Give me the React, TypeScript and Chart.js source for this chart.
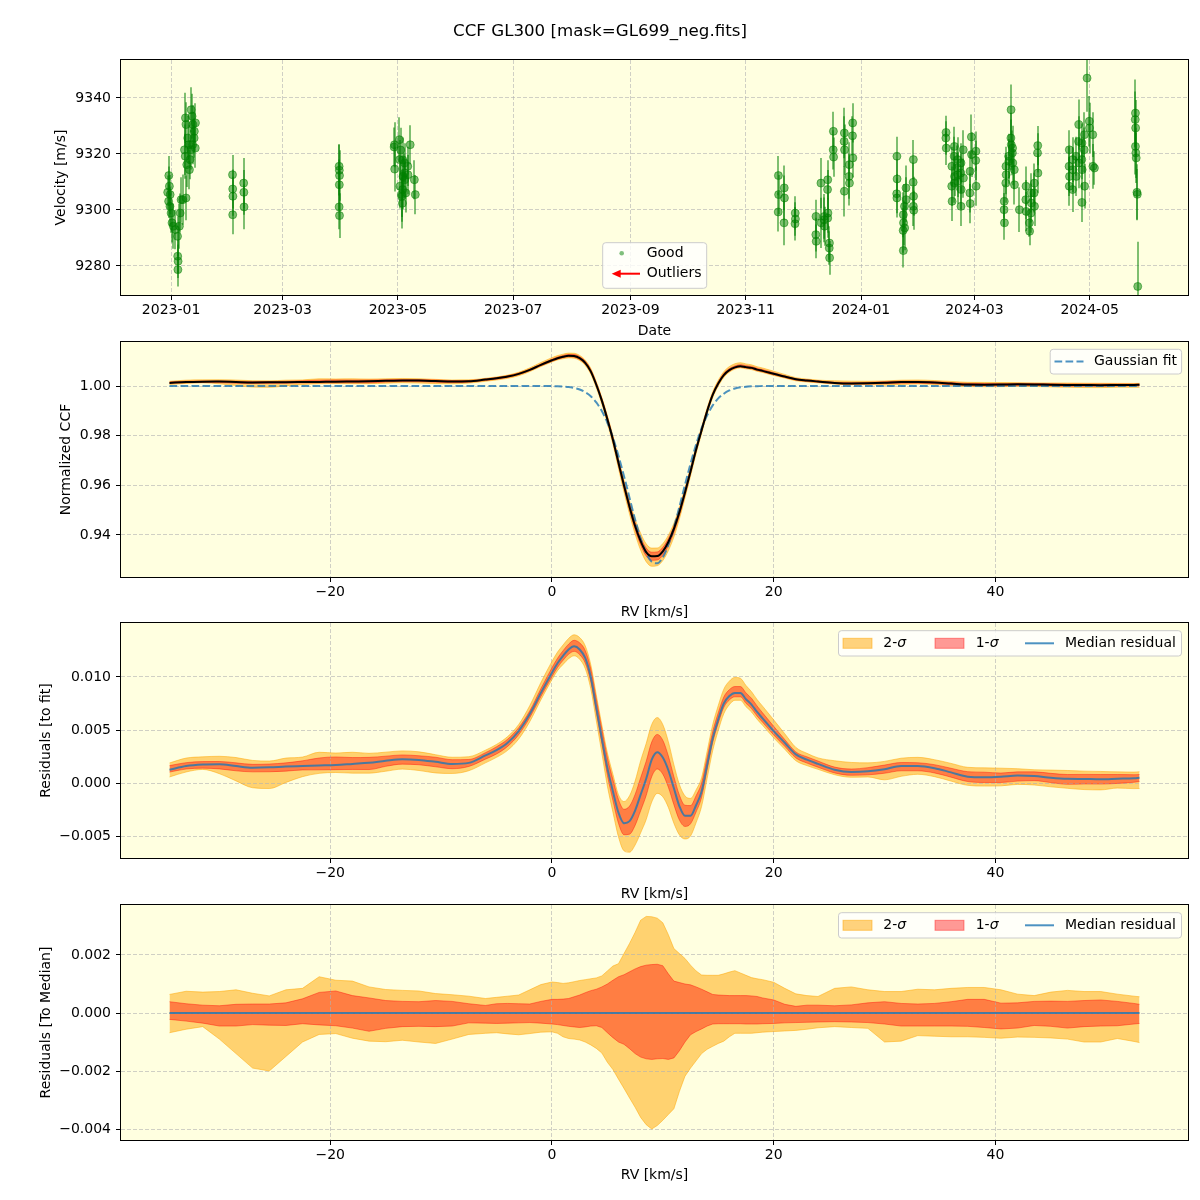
import React, { useEffect, useRef } from 'react';
import { Chart, registerables } from 'chart.js';

const FONT = "'DejaVu Sans', 'Liberation Sans', sans-serif";
const BG = '#ffffe0';
const GRID = 'rgba(176,176,176,0.6)';
const ORANGE = 'rgba(255,165,0,0.5)';
const RED = 'rgba(255,0,0,0.4)';
const BLUE = 'rgba(31,119,180,0.8)';
const GREEN = 'rgba(0,128,0,0.5)';

// ================= Panel 1: velocity time series =================
// x values are days since 2023-01-01
const DATE_TICKS = [0, 59, 120, 181, 243, 304, 365, 425, 486];
const DATE_LABELS = ['2023-01', '2023-03', '2023-05', '2023-07', '2023-09', '2023-11', '2024-01', '2024-03', '2024-05'];
const VEL_TICKS = [9280, 9300, 9320, 9340];

const T_DAYS = [
  -1.2, -0.9, -1.8, -0.5, -1.3, -0.6, 0.0, 0.5, 1.2, 2.3, 3.4, 3.5, 3.7, 3.6, 4.8, 4.4, 5.3,
  6.2, 7.1, 7.6, 7.9, 7.5, 8.3, 7.9, 8.8, 9.3, 9.7, 10.0, 10.6, 10.5, 11.1, 11.5, 11.4, 12.3, 12.2, 12.9, 12.8,
  32.5, 32.6, 32.7, 32.6, 38.4, 38.5, 38.6,
  88.9, 89.0, 89.1, 89.0, 88.9, 89.1,
  118.2, 118.0, 118.3, 120.8, 121.5, 120.9, 122.6, 121.1, 121.9, 122.0, 122.4, 122.7, 122.5, 123.5, 123.4, 123.6, 124.2, 125.2, 125.3, 126.5, 128.7, 129.2,
  321.3, 321.4, 321.2, 324.4, 324.5, 324.3, 330.2, 330.3, 330.1,
  341.2, 341.1, 341.3, 343.8, 343.9, 345.6, 345.5, 345.7, 347.4, 347.3, 347.5, 347.4, 348.3, 348.2, 348.4, 350.4, 350.3, 350.5, 356.2, 356.1, 356.3, 356.2, 358.8, 358.7, 358.9, 360.6, 360.5, 360.7,
  384.0, 384.1, 383.9, 384.0, 387.4, 387.5, 387.3, 387.4, 388.0, 388.1, 388.8, 388.9, 392.7, 392.6, 392.8, 392.7, 392.9,
  410.0, 409.9, 410.1, 413.1, 413.0, 413.2, 414.4, 414.3, 414.5, 414.4, 416.1, 416.0, 416.2, 416.1, 417.9, 417.8, 418.0, 417.9, 419.1, 419.2, 422.7, 422.6, 422.8, 423.4, 423.5, 425.8, 425.7, 425.9,
  440.8, 440.7, 440.9, 441.7, 441.8, 441.6, 443.1, 443.2, 444.4, 444.3, 444.5, 445.2, 445.1, 445.3, 446.1, 446.2, 448.8, 452.3, 452.2, 452.4, 454.1, 454.2, 455.0, 455.1, 454.9, 456.7, 456.6, 456.8, 458.5, 458.4, 458.6,
  475.2, 475.1, 475.3, 475.2, 477.0, 477.1, 476.9, 478.8, 478.9, 480.2, 480.1, 480.3, 481.9, 481.8, 482.0, 481.9, 483.2, 483.1, 483.3, 484.6, 485.8, 485.9, 487.6, 487.7, 488.5,
  510.2, 510.1, 510.3, 510.2, 510.4, 510.6, 511.0, 511.2, 511.4,
];
const VEL = [
  9312.3, 9308.5, 9306.3, 9305.5, 9303.1, 9301.3, 9298.9, 9295.4, 9294.2, 9293.0, 9290.6, 9283.5, 9281.7, 9278.7, 9298.9, 9294.2, 9303.7,
  9303.7, 9321.5, 9332.9, 9330.5, 9319.2, 9316.2, 9304.3, 9325.7, 9323.3, 9314.4, 9318.0, 9335.8, 9321.5, 9333.5, 9330.5, 9323.3, 9328.1, 9325.7, 9331.1, 9322.1,
  9312.6, 9307.5, 9304.9, 9298.3, 9309.6, 9306.3, 9301.1,
  9315.6, 9314.2, 9312.3, 9309.0, 9301.1, 9298.0,
  9323.3, 9322.5, 9314.6, 9325.1, 9321.4, 9318.0, 9317.9, 9308.5, 9305.5, 9304.8, 9302.4, 9312.0, 9307.3, 9316.8, 9313.2, 9310.8, 9306.1, 9315.6, 9312.6, 9323.3, 9310.8, 9305.5,
  9312.3, 9305.5, 9299.3, 9307.9, 9304.3, 9295.4, 9298.9, 9296.8, 9295.1,
  9297.7, 9291.2, 9288.8, 9309.6, 9295.4, 9297.7, 9296.5, 9294.2, 9310.8, 9307.3, 9298.9, 9297.1, 9288.2, 9286.4, 9282.9, 9328.1, 9321.5, 9318.9, 9327.5, 9324.5, 9321.5, 9306.7, 9316.2, 9312.0, 9309.6, 9331.1, 9326.5, 9318.6,
  9319.2, 9311.1, 9305.8, 9304.3, 9298.3, 9295.4, 9292.7, 9285.5, 9301.3, 9293.6, 9307.9, 9303.7, 9318.0, 9309.9, 9304.9, 9301.3, 9299.9,
  9327.7, 9325.7, 9322.1, 9315.6, 9308.5, 9303.1, 9322.7, 9319.2, 9312.0, 9309.6, 9318.0, 9315.0, 9312.6, 9310.2, 9316.8, 9313.2, 9307.3, 9301.3, 9321.5, 9311.4, 9313.8, 9306.1, 9302.3, 9326.1, 9319.8, 9321.0, 9317.7, 9308.5,
  9303.1, 9300.1, 9295.4, 9315.6, 9312.6, 9309.6, 9319.2, 9317.4, 9335.8, 9325.7, 9323.3, 9322.1, 9320.4, 9316.8, 9314.4, 9309.0, 9300.1, 9308.5, 9303.7, 9299.5, 9295.4, 9292.4, 9306.1, 9302.5, 9298.9, 9309.6, 9306.1, 9301.3, 9323.0, 9320.4, 9313.2,
  9321.5, 9315.6, 9312.0, 9308.5, 9318.0, 9314.4, 9307.3, 9319.2, 9312.0, 9330.5, 9324.5, 9316.8, 9323.9, 9318.0, 9314.4, 9302.7, 9326.9, 9321.5, 9308.5, 9347.1, 9331.7, 9329.3, 9326.9, 9315.6, 9315.0,
  9334.6, 9332.3, 9329.3, 9322.7, 9320.4, 9318.6, 9306.3, 9305.6, 9272.7,
];
const VEL_ERR = [
  7, 7, 6, 7, 6, 7, 7, 7, 8, 7, 7, 6, 6, 6, 7, 8, 8,
  9, 9, 9, 8, 8, 8, 8, 8, 7, 7, 7, 8, 7, 8, 7, 7, 7, 7, 7, 7,
  7, 7, 7, 7, 9, 8, 8,
  8, 9, 9, 9, 8, 8,
  8, 7, 8, 8, 8, 7, 8, 8, 8, 9, 9, 7, 7, 7, 7, 7, 7, 7, 7, 7, 7, 7,
  7, 7, 7, 8, 8, 8, 6, 6, 6,
  6, 6, 6, 9, 9, 8, 8, 7, 7, 7, 7, 7, 6, 6, 6, 7, 7, 7, 9, 9, 9, 9, 8, 8, 8, 7, 7, 7,
  7, 7, 7, 7, 8, 8, 8, 6, 8, 8, 8, 8, 7, 7, 7, 7, 7,
  6, 6, 6, 7, 7, 7, 7, 7, 7, 7, 8, 8, 8, 8, 7, 7, 7, 7, 7, 7, 7, 7, 7, 8, 8, 7, 7, 7,
  6, 6, 6, 7, 7, 7, 8, 8, 9, 9, 9, 8, 8, 8, 7, 7, 8, 7, 7, 7, 5, 5, 7, 7, 7, 7, 7, 7, 7, 7, 7,
  7, 7, 7, 7, 8, 8, 8, 7, 7, 9, 9, 9, 7, 7, 7, 7, 8, 8, 8, 12, 9, 9, 8, 8, 6,
  12, 10, 10, 10, 9, 9, 10, 9, 16,
];

// ================= CCF panels =================
const RV_TICKS = [-20, 0, 20, 40];
const CCF_TICKS = [0.94, 0.96, 0.98, 1.0];
const RES_TICKS = [-0.005, 0, 0.005, 0.01];
const RESMED_TICKS = [-0.004, -0.002, 0, 0.002];

const RV = [
  -34.5, -33, -31.5, -30, -28.5, -27, -25.5, -24, -22.5, -21,
  -19.5, -18, -16.5, -15, -13.5, -12, -10.5, -9, -7.5, -6,
  -5, -4, -3, -2, -1, 0, 0.5, 1, 1.5, 2,
  2.5, 3, 3.5, 4, 4.5, 5, 5.5, 6, 6.5, 7,
  7.5, 8, 8.5, 9, 9.5, 10, 10.5, 11, 11.5, 12,
  12.5, 13, 13.5, 14, 14.5, 15, 15.5, 16, 16.5, 17,
  17.5, 18, 18.5, 19, 20, 21, 22, 23, 24, 25.5,
  27, 28.5, 30, 31.5, 33, 34.5, 36, 37.5, 39, 40.5,
  42, 43.5, 45, 46.5, 48, 49.5, 51, 52.5, 53,
];
const GAUSS_FIT = [
  1, 1, 1, 1, 1, 1, 1, 1, 1, 1,
  1, 1, 1, 1, 1, 1, 1, 1, 1, 1,
  1, 1, 1, 1, 1, 0.99995, 0.9999, 0.9998, 0.9996, 0.9992,
  0.9986, 0.9975, 0.9959, 0.9934, 0.9899, 0.9852, 0.9792, 0.9719, 0.9637, 0.9549,
  0.9462, 0.9386, 0.9327, 0.9292, 0.9286, 0.931, 0.936, 0.943, 0.9514, 0.9602,
  0.9687, 0.9764, 0.983, 0.9882, 0.9922, 0.995, 0.9969, 0.9982, 0.999, 0.9995,
  0.9997, 0.9999, 0.9999, 1, 1, 1, 1, 1, 1, 1,
  1, 1, 1, 1, 1, 1, 1, 1, 1, 1,
  1, 1, 1, 1, 1, 1, 1, 1, 1,
];
const MED_RESID = [
  0.00125, 0.0016, 0.00175, 0.00178, 0.0016, 0.00145, 0.00148, 0.00155, 0.0016, 0.00165,
  0.0017, 0.0018, 0.0019, 0.0021, 0.00225, 0.00218, 0.002, 0.0018, 0.0019, 0.0026,
  0.0031, 0.0038, 0.0049, 0.0065, 0.0085, 0.0104, 0.0113, 0.012, 0.0126, 0.0129,
  0.0126, 0.0118, 0.01, 0.0071, 0.0042, 0.0014, -0.0008, -0.0028, -0.0038, -0.0036,
  -0.0026, -0.0011, 0.0004, 0.0022, 0.0029, 0.0024, 0.0012, -0.0005, -0.0022, -0.0031,
  -0.0031, -0.0021, -0.0008, 0.0017, 0.0042, 0.006, 0.0075, 0.0082, 0.0085, 0.0085,
  0.0079, 0.0074, 0.0067, 0.0061, 0.0049, 0.0038, 0.0027, 0.0022, 0.0018, 0.00125,
  0.00104, 0.0011, 0.0013, 0.0016, 0.0016, 0.0014, 0.001, 0.0006, 0.00055, 0.0006,
  0.0007, 0.00065, 0.0005, 0.0004, 0.00038, 0.00035, 0.0004, 0.00045, 0.0005,
];
// percentile offsets of residuals relative to the median residual
const HI2 = [
  0.00064, 0.00075, 0.00072, 0.00074, 0.0008, 0.00068, 0.00059, 0.0008, 0.00085, 0.00125,
  0.00113, 0.0011, 0.0009, 0.00081, 0.00078, 0.00076, 0.00067, 0.00063, 0.00058, 0.0005,
  0.00054, 0.00058, 0.00062, 0.0008, 0.00098, 0.00107, 0.00105, 0.00102, 0.00104, 0.00108,
  0.00112, 0.00115, 0.00118, 0.00121, 0.00128, 0.00145, 0.00162, 0.0017, 0.00205, 0.0024,
  0.00278, 0.0032, 0.00333, 0.00332, 0.00327, 0.00311, 0.0027, 0.00222, 0.00205, 0.00188,
  0.00165, 0.00145, 0.00131, 0.0013, 0.0013, 0.0013, 0.00135, 0.00141, 0.00146, 0.00138,
  0.0013, 0.00122, 0.00118, 0.00115, 0.00106, 0.00085, 0.00066, 0.0006, 0.00057, 0.00085,
  0.0009, 0.0008, 0.00074, 0.00074, 0.00082, 0.0008, 0.00085, 0.00088, 0.00088, 0.0008,
  0.00065, 0.0006, 0.00072, 0.00078, 0.00074, 0.00074, 0.00065, 0.00058, 0.00056,
];
const HI1 = [
  0.00039, 0.00032, 0.00027, 0.00025, 0.0003, 0.00031, 0.00031, 0.00035, 0.00049, 0.00071,
  0.00076, 0.0006, 0.00052, 0.00043, 0.0004, 0.00039, 0.00043, 0.0004, 0.00032, 0.00026,
  0.00032, 0.00033, 0.00032, 0.00031, 0.0004, 0.00047, 0.00047, 0.00048, 0.0005, 0.00056,
  0.00062, 0.0007, 0.00077, 0.00082, 0.0009, 0.001, 0.00113, 0.00125, 0.00132, 0.00142,
  0.00152, 0.0016, 0.00165, 0.00167, 0.00168, 0.00163, 0.00135, 0.0011, 0.00105, 0.001,
  0.00097, 0.0009, 0.00082, 0.00073, 0.00064, 0.00062, 0.00061, 0.0006, 0.0006, 0.0006,
  0.0006, 0.00059, 0.00057, 0.00052, 0.00045, 0.0003, 0.00023, 0.00027, 0.00027, 0.00025,
  0.00028, 0.00035, 0.00039, 0.00033, 0.00031, 0.00033, 0.00039, 0.00047, 0.00047, 0.00034,
  0.00035, 0.0004, 0.00041, 0.0004, 0.00043, 0.00045, 0.0004, 0.00033, 0.0003,
];
const LO1 = [
  -0.00022, -0.00028, -0.00035, -0.00045, -0.00045, -0.0004, -0.00042, -0.00043, -0.00037, -0.00041,
  -0.00044, -0.00052, -0.00063, -0.00053, -0.00047, -0.00046, -0.00047, -0.00045, -0.00034, -0.00035,
  -0.00036, -0.00035, -0.00034, -0.00033, -0.00035, -0.00038, -0.0004, -0.00043, -0.00046, -0.00048,
  -0.0005, -0.00048, -0.00045, -0.00044, -0.0005, -0.00068, -0.00085, -0.001, -0.00108, -0.00123,
  -0.0014, -0.00152, -0.00158, -0.0016, -0.00158, -0.00157, -0.0016, -0.00155, -0.0013, -0.001,
  -0.00075, -0.00064, -0.00055, -0.00045, -0.00038, -0.00037, -0.00037, -0.00037, -0.00037, -0.00037,
  -0.00038, -0.00038, -0.00038, -0.00037, -0.00036, -0.00034, -0.00033, -0.00032, -0.00031, -0.0003,
  -0.00031, -0.00033, -0.00038, -0.00045, -0.00045, -0.00045, -0.00045, -0.00046, -0.0005, -0.00055,
  -0.00052, -0.00043, -0.00046, -0.00052, -0.00047, -0.00045, -0.00044, -0.00038, -0.00036,
];
const LO2 = [
  -0.00068, -0.00056, -0.00047, -0.0009, -0.0014, -0.0019, -0.002, -0.0015, -0.001, -0.00074,
  -0.00071, -0.00087, -0.00097, -0.00099, -0.00094, -0.001, -0.00105, -0.0009, -0.00074, -0.0007,
  -0.00068, -0.00072, -0.00075, -0.00071, -0.00066, -0.00065, -0.0007, -0.00082, -0.00088, -0.0009,
  -0.00093, -0.001, -0.0011, -0.00122, -0.00138, -0.0017, -0.00195, -0.00228, -0.0026, -0.00293,
  -0.00325, -0.0036, -0.00385, -0.004, -0.00388, -0.0037, -0.0035, -0.0033, -0.0027, -0.00218,
  -0.0019, -0.00165, -0.0014, -0.00125, -0.00115, -0.00105, -0.00097, -0.00082, -0.0007, -0.0007,
  -0.0007, -0.0007, -0.00068, -0.00066, -0.00064, -0.00062, -0.0006, -0.00056, -0.00051, -0.00047,
  -0.0005, -0.00053, -0.001, -0.00097, -0.00078, -0.0008, -0.00082, -0.00082, -0.00084, -0.00087,
  -0.00083, -0.00084, -0.00086, -0.0009, -0.001, -0.001, -0.00088, -0.00098, -0.00102,
];

// ================= plugins =================
const bgPlugin = {
  id: 'axesBg',
  beforeDraw(chart: any) {
    const { ctx, chartArea: a } = chart;
    ctx.save();
    ctx.fillStyle = BG;
    ctx.fillRect(a.left, a.top, a.right - a.left, a.bottom - a.top);
    ctx.restore();
  },
};
// registered before the Filler so the background goes under the fills
Chart.register(bgPlugin as any);
Chart.register(...registerables);
Chart.defaults.font.family = FONT;
Chart.defaults.color = '#000';

const framePlugin = {
  id: 'frame',
  afterDatasetsDraw(chart: any) {
    const { ctx, chartArea: a } = chart;
    ctx.save();
    ctx.strokeStyle = '#000';
    ctx.lineWidth = 1;
    ctx.strokeRect(Math.round(a.left) - 0.5, Math.round(a.top) - 0.5, Math.round(a.right - a.left) + 1, Math.round(a.bottom - a.top) + 1);
    ctx.restore();
  },
};

const errorBarPlugin = {
  id: 'errBars',
  beforeDatasetsDraw(chart: any) {
    const { ctx, chartArea: a, scales } = chart;
    const x = scales.x;
    const y = scales.y;
    ctx.save();
    ctx.beginPath();
    ctx.rect(a.left, a.top, a.right - a.left, a.bottom - a.top);
    ctx.clip();
    ctx.strokeStyle = GREEN;
    ctx.lineWidth = 2;
    T_DAYS.forEach((t, i) => {
      const px = Math.round(x.getPixelForValue(t));
      ctx.beginPath();
      ctx.moveTo(px, y.getPixelForValue(VEL[i] - VEL_ERR[i]));
      ctx.lineTo(px, y.getPixelForValue(VEL[i] + VEL_ERR[i]));
      ctx.stroke();
    });
    ctx.restore();
  },
};

type Part = { t: string; italic?: boolean };
type LegItem = {
  kind: 'patch' | 'line' | 'dot' | 'arrow';
  x0: number; x1: number; y: number; color: string; dash?: number[];
  text: Part[]; tx: number;
};
type LegSpec = { offsetY: number; box: { x: number; y: number; w: number; h: number }; items: LegItem[] };

function makeLegend(spec: LegSpec) {
  return {
    id: 'mplLegend',
    afterDraw(chart: any) {
      const ctx = chart.ctx as CanvasRenderingContext2D;
      const oy = spec.offsetY;
      const b = spec.box;
      ctx.save();
      ctx.beginPath();
      const rx = b.x, ry = b.y - oy, r = 3;
      ctx.moveTo(rx + r, ry);
      ctx.lineTo(rx + b.w - r, ry);
      ctx.arcTo(rx + b.w, ry, rx + b.w, ry + r, r);
      ctx.lineTo(rx + b.w, ry + b.h - r);
      ctx.arcTo(rx + b.w, ry + b.h, rx + b.w - r, ry + b.h, r);
      ctx.lineTo(rx + r, ry + b.h);
      ctx.arcTo(rx, ry + b.h, rx, ry + b.h - r, r);
      ctx.lineTo(rx, ry + r);
      ctx.arcTo(rx, ry, rx + r, ry, r);
      ctx.closePath();
      ctx.fillStyle = 'rgba(255,255,255,0.8)';
      ctx.fill();
      ctx.strokeStyle = '#cccccc';
      ctx.lineWidth = 1;
      ctx.stroke();
      for (const it of spec.items) {
        const y = it.y - oy;
        if (it.kind === 'patch') {
          ctx.fillStyle = it.color;
          ctx.fillRect(it.x0, y - 5, it.x1 - it.x0, 10);
          ctx.strokeStyle = it.color;
          ctx.lineWidth = 1;
          ctx.strokeRect(it.x0, y - 5, it.x1 - it.x0, 10);
        } else if (it.kind === 'line') {
          ctx.strokeStyle = it.color;
          ctx.lineWidth = 2;
          ctx.setLineDash(it.dash || []);
          ctx.beginPath();
          ctx.moveTo(it.x0, y);
          ctx.lineTo(it.x1, y);
          ctx.stroke();
          ctx.setLineDash([]);
        } else if (it.kind === 'dot') {
          ctx.fillStyle = it.color;
          ctx.beginPath();
          ctx.arc(it.x0, y, 2.3, 0, Math.PI * 2);
          ctx.fill();
        } else if (it.kind === 'arrow') {
          ctx.strokeStyle = it.color;
          ctx.fillStyle = it.color;
          ctx.lineWidth = 2;
          ctx.beginPath();
          ctx.moveTo(it.x1, y);
          ctx.lineTo(it.x0 + 6, y);
          ctx.stroke();
          ctx.beginPath();
          ctx.moveTo(it.x0, y);
          ctx.lineTo(it.x0 + 9, y - 4);
          ctx.lineTo(it.x0 + 9, y + 4);
          ctx.closePath();
          ctx.fill();
        }
        ctx.fillStyle = '#000';
        ctx.textBaseline = 'middle';
        ctx.textAlign = 'left';
        let tx = it.tx;
        for (const p of it.text) {
          ctx.font = `${p.italic ? 'italic ' : ''}14px ${FONT}`;
          ctx.fillText(p.t, tx, y);
          tx += ctx.measureText(p.t).width;
        }
      }
      ctx.restore();
    },
  };
}

// ================= helpers =================
const tickFont = { family: FONT, size: 14 };
const axTitleFont = { family: FONT, size: 14, lineHeight: 0.9 };
function fmtNum(v: number, d: number) {
  const w = Math.abs(v) < 1e-12 ? 0 : v;
  return w.toFixed(d).replace('-', '\u2212');
}
function gridOpts(z = 0) {
  return { color: GRID, lineWidth: 1, tickLength: 5, tickColor: '#000', tickWidth: 1, tickBorderDash: [], z };
}
function yScale(min: number, max: number, ticks: number[], digits: number, title: string, titlePad: number) {
  return {
    type: 'linear', position: 'left', min, max,
    afterBuildTicks: (s: any) => { s.ticks = ticks.map((value) => ({ value })); },
    ticks: { callback: (v: any) => fmtNum(Number(v), digits), font: tickFont, color: '#000', padding: 5, autoSkip: false },
    grid: gridOpts(),
    border: { display: false, dash: [4, 2] },
    title: { display: true, text: title, font: tickFont, color: '#000', padding: { top: titlePad, bottom: 0 } },
    afterFit: (s: any) => { s.width = 121; s.paddingTop = 0; s.paddingBottom = 0; },
  };
}
function xScale(min: number, max: number, ticks: number[], label: (v: number) => string, title: string, height: number, titlePad: number) {
  return {
    type: 'linear', position: 'bottom', min, max,
    afterBuildTicks: (s: any) => { s.ticks = ticks.map((value) => ({ value })); },
    ticks: { callback: (v: any) => label(Number(v)), font: tickFont, color: '#000', padding: 2, autoSkip: false, maxRotation: 0 },
    grid: gridOpts(),
    border: { display: false, dash: [4, 2] },
    title: { display: true, text: title, font: axTitleFont, color: '#000', padding: { top: 0, bottom: titlePad } },
    afterFit: (s: any) => { s.height = height; s.paddingLeft = 0; s.paddingRight = 0; },
  };
}
// invisible right-hand spacer axis (keeps the figure title centred on the page)
const spacerAxis = {
  type: 'linear', position: 'right', display: true,
  grid: { display: false, drawTicks: false },
  ticks: { display: false },
  border: { display: false },
  afterFit: (s: any) => { s.width = 12; s.paddingTop = 0; s.paddingBottom = 0; },
};
const xy = (ys: number[]) => RV.map((x, i) => ({ x, y: ys[i] }));
const plus = (a: number[], b: number[]) => a.map((v, i) => v + b[i]);
const CCF_MEDIAN = plus(GAUSS_FIT, MED_RESID);
const ZERO_LINE = RV.map(() => 0);

function bandSets(center: number[], smooth: boolean) {
  const common = { pointRadius: 0, borderWidth: 1, cubicInterpolationMode: smooth ? 'monotone' : 'default', tension: 0 };
  return [
    { ...common, data: xy(plus(center, HI1)), fill: '+1', backgroundColor: RED, borderColor: RED, order: 2 },
    { ...common, data: xy(plus(center, LO1)), fill: false, backgroundColor: RED, borderColor: RED, order: 2 },
    { ...common, data: xy(plus(center, HI2)), fill: '+1', backgroundColor: ORANGE, borderColor: ORANGE, order: 3 },
    { ...common, data: xy(plus(center, LO2)), fill: false, backgroundColor: ORANGE, borderColor: ORANGE, order: 3 },
  ];
}

const rvLabel = (v: number) => fmtNum(v, 0);
const RV_MIN = -38.875;
const RV_MAX = 57.375;

function sigmaLegend(offsetY: number, top: number): LegSpec {
  const cy = top + 12.6;
  return {
    offsetY,
    box: { x: 838.5, y: top, w: 343, h: 25.3 },
    items: [
      { kind: 'patch', x0: 843, x1: 872, y: cy, color: ORANGE, text: [{ t: '2-' }, { t: 'σ', italic: true }], tx: 883.3 },
      { kind: 'patch', x0: 935, x1: 964, y: cy, color: RED, text: [{ t: '1-' }, { t: 'σ', italic: true }], tx: 975.7 },
      { kind: 'line', x0: 1025, x1: 1054, y: cy, color: BLUE, text: [{ t: 'Median residual' }], tx: 1065 },
    ],
  };
}

const baseOpts = (top: number, right: number) => ({
  responsive: false,
  maintainAspectRatio: false,
  animation: false,
  devicePixelRatio: 1,
  events: [],
  layout: { padding: { left: 0, right, top, bottom: 0 } },
});

// ================= chart configs =================
function buildPanel1() {
  return {
    type: 'scatter',
    data: {
      datasets: [{
        label: 'Good',
        data: T_DAYS.map((t, i) => ({ x: t, y: VEL[i] })),
        pointRadius: 4, pointBorderWidth: 1,
        backgroundColor: GREEN, borderColor: GREEN,
      }],
    },
    options: {
      ...baseOpts(0, 0),
      scales: {
        x: xScale(-26.5, 538, DATE_TICKS, (v) => DATE_LABELS[DATE_TICKS.indexOf(v)] ?? '', 'Date', 43, 0),
        y: yScale(9269.64, 9353.57, VEL_TICKS, 0, 'Velocity [m/s]', 52.6),
        yspacer: spacerAxis,
      },
      plugins: {
        legend: { display: false },
        tooltip: { enabled: false },
        title: {
          display: true, text: 'CCF GL300 [mask=GL699_neg.fits]', color: '#000',
          font: { family: FONT, size: 16.67, weight: 'normal' }, padding: { top: 22, bottom: 18 },
        },
      },
    },
    plugins: [errorBarPlugin, framePlugin, makeLegend({
      offsetY: 0,
      box: { x: 602.7, y: 242.7, w: 104, h: 45.6 },
      items: [
        { kind: 'dot', x0: 621.7, x1: 621.7, y: 253.3, color: GREEN, text: [{ t: 'Good' }], tx: 646.7 },
        { kind: 'arrow', x0: 611.7, x1: 640, y: 273.7, color: 'red', text: [{ t: 'Outliers' }], tx: 646.7 },
      ],
    })],
  };
}

function buildPanel2() {
  return {
    type: 'line',
    data: {
      datasets: [
        { label: 'CCF', data: xy(CCF_MEDIAN), borderColor: '#000', borderWidth: 2, pointRadius: 0, cubicInterpolationMode: 'monotone', order: 0 },
        { label: 'Gaussian fit', data: xy(GAUSS_FIT), borderColor: BLUE, borderWidth: 2, borderDash: [7.7, 3.3], pointRadius: 0, cubicInterpolationMode: 'monotone', order: 1 },
        ...bandSets(CCF_MEDIAN, true),
      ],
    },
    options: {
      ...baseOpts(4, 12),
      scales: {
        x: xScale(RV_MIN, RV_MAX, RV_TICKS, rvLabel, 'RV [km/s]', 43, 1.1),
        y: yScale(0.92308, 1.01772, CCF_TICKS, 2, 'Normalized CCF', 57.6),
      },
      plugins: { legend: { display: false }, tooltip: { enabled: false }, filler: { drawTime: 'beforeDraw' } },
    },
    plugins: [framePlugin, makeLegend({
      offsetY: 338,
      box: { x: 1050.2, y: 349.3, w: 131.4, h: 24.7 },
      items: [
        { kind: 'line', x0: 1054.5, x1: 1083.5, y: 361.6, color: BLUE, dash: [7.7, 3.3], text: [{ t: 'Gaussian fit' }], tx: 1094 },
      ],
    })],
  };
}

function buildPanel3() {
  return {
    type: 'line',
    data: {
      datasets: [
        { label: 'Median residual', data: xy(MED_RESID), borderColor: BLUE, borderWidth: 2, pointRadius: 0, cubicInterpolationMode: 'monotone', order: 0 },
        ...bandSets(MED_RESID, true),
      ],
    },
    options: {
      ...baseOpts(3, 12),
      scales: {
        x: xScale(RV_MIN, RV_MAX, RV_TICKS, rvLabel, 'RV [km/s]', 44, 1.1),
        y: yScale(-0.007075, 0.015094, RES_TICKS, 3, 'Residuals [to fit]', 37.6),
      },
      plugins: { legend: { display: false }, tooltip: { enabled: false }, filler: { drawTime: 'beforeDraw' } },
    },
    plugins: [framePlugin, makeLegend(sigmaLegend(620, 630.7))],
  };
}

function buildPanel4() {
  return {
    type: 'line',
    data: {
      datasets: [
        { label: 'Median residual', data: xy(ZERO_LINE), borderColor: BLUE, borderWidth: 2, pointRadius: 0, order: 0 },
        ...bandSets(ZERO_LINE, false),
      ],
    },
    options: {
      ...baseOpts(3, 12),
      scales: {
        x: xScale(RV_MIN, RV_MAX, RV_TICKS, rvLabel, 'RV [km/s]', 60, 18.1),
        y: yScale(-0.004379, 0.003724, RESMED_TICKS, 3, 'Residuals [To Median]', 37.6),
      },
      plugins: { legend: { display: false }, tooltip: { enabled: false }, filler: { drawTime: 'beforeDraw' } },
    },
    plugins: [framePlugin, makeLegend(sigmaLegend(902, 912.7))],
  };
}

function ChartPanel({ top, height, build }: { top: number; height: number; build: () => any }) {
  const ref = useRef<HTMLCanvasElement>(null);
  useEffect(() => {
    const chart = new Chart(ref.current as HTMLCanvasElement, build() as any);
    return () => chart.destroy();
  }, [build]);
  return (
    <canvas
      ref={ref}
      width={1200}
      height={height}
      style={{ position: 'absolute', left: 0, top, width: 1200, height, display: 'block' }}
    />
  );
}

export default function App() {
  return (
    <div style={{ position: 'absolute', left: 0, top: 0, width: 1200, height: 1200, background: '#fff', overflow: 'hidden' }}>
      <ChartPanel top={0} height={338} build={buildPanel1} />
      <ChartPanel top={338} height={282} build={buildPanel2} />
      <ChartPanel top={620} height={282} build={buildPanel3} />
      <ChartPanel top={902} height={298} build={buildPanel4} />
    </div>
  );
}
